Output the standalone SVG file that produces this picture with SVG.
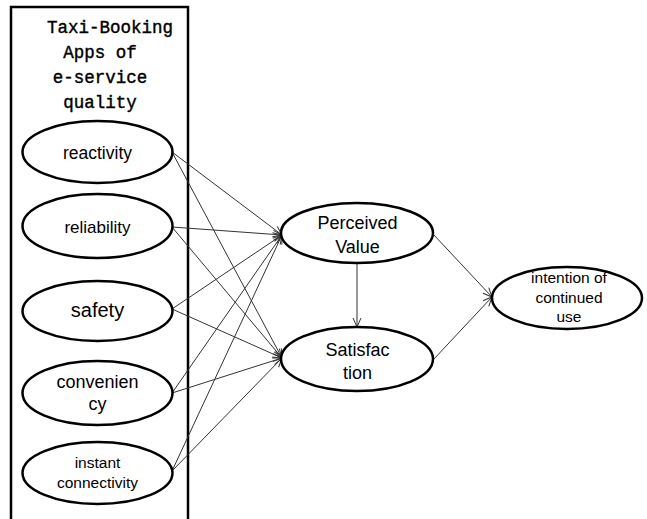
<svg xmlns="http://www.w3.org/2000/svg" width="647" height="519" viewBox="0 0 647 519">
<defs>
<marker id="arr" markerUnits="userSpaceOnUse" markerWidth="12" markerHeight="12" refX="10" refY="5" orient="auto">
<path d="M1,1 L10,5 L1,9" fill="none" stroke="#333" stroke-width="1"/>
</marker>
<style>
.node ellipse{fill:#fff;stroke:#000;stroke-width:2.5}
.t{font-family:"Liberation Sans",Arial,sans-serif;fill:#000;text-anchor:middle}
.title{font-family:"Liberation Mono","Courier New",monospace;font-size:17.5px;fill:#000;stroke:#000;stroke-width:0.4}
#connectors line{stroke:#333;stroke-width:1;marker-end:url(#arr)}
</style>
</defs>
<rect x="0" y="0" width="647" height="519" fill="#fff"/>
<g id="group-box">
<rect x="11" y="7" width="177" height="520" fill="none" stroke="#000" stroke-width="2.5"/>
<text class="title" x="47" y="33">Taxi-Booking</text>
<text class="title" x="100" y="58" text-anchor="middle">Apps of</text>
<text class="title" x="100" y="83" text-anchor="middle">e-service</text>
<text class="title" x="100" y="108" text-anchor="middle">quality</text>
</g>
<g id="connectors">
<line x1="172" y1="152" x2="282" y2="235"/>
<line x1="172" y1="152" x2="282" y2="358"/>
<line x1="172" y1="227" x2="282" y2="235"/>
<line x1="172" y1="227" x2="282" y2="358"/>
<line x1="172" y1="309" x2="282" y2="235"/>
<line x1="172" y1="309" x2="282" y2="358"/>
<line x1="172" y1="393" x2="282" y2="235"/>
<line x1="172" y1="393" x2="282" y2="358"/>
<line x1="172" y1="471" x2="282" y2="235"/>
<line x1="172" y1="471" x2="282" y2="358"/>
<line x1="357" y1="264" x2="357" y2="327"/>
<line x1="433" y1="234" x2="492" y2="297"/>
<line x1="433" y1="360" x2="492" y2="297"/>
</g>
<g id="reactivity" class="node">
<ellipse cx="97.5" cy="152" rx="75" ry="31"/>
<text class="t" x="97.5" y="159" font-size="17.5">reactivity</text>
</g>
<g id="reliability" class="node">
<ellipse cx="97.5" cy="226" rx="75" ry="32"/>
<text class="t" x="97.5" y="233" font-size="17">reliability</text>
</g>
<g id="safety" class="node">
<ellipse cx="97.5" cy="311" rx="75" ry="30"/>
<text class="t" x="97.5" y="317" font-size="20">safety</text>
</g>
<g id="convenience" class="node">
<ellipse cx="97.5" cy="393" rx="75" ry="32"/>
<text class="t" x="97.5" y="388" font-size="18">convenien</text>
<text class="t" x="97.5" y="410" font-size="18">cy</text>
</g>
<g id="instant" class="node">
<ellipse cx="97.5" cy="473" rx="75" ry="31"/>
<text class="t" x="97.5" y="468" font-size="15.5">instant</text>
<text class="t" x="97.5" y="488" font-size="15.5">connectivity</text>
</g>
<g id="perceived-value" class="node">
<ellipse cx="357" cy="233" rx="76" ry="30"/>
<text class="t" x="357.5" y="229" font-size="18">Perceived</text>
<text class="t" x="357.5" y="253" font-size="18">Value</text>
</g>
<g id="satisfaction" class="node">
<ellipse cx="357" cy="359" rx="76" ry="32"/>
<text class="t" x="357.5" y="356" font-size="18">Satisfac</text>
<text class="t" x="357.5" y="379" font-size="18">tion</text>
</g>
<g id="intention" class="node">
<ellipse cx="567" cy="298" rx="75" ry="31"/>
<text class="t" x="569" y="283" font-size="15.5">intention of</text>
<text class="t" x="569" y="303" font-size="15.5">continued</text>
<text class="t" x="569" y="322" font-size="15.5">use</text>
</g>
</svg>
